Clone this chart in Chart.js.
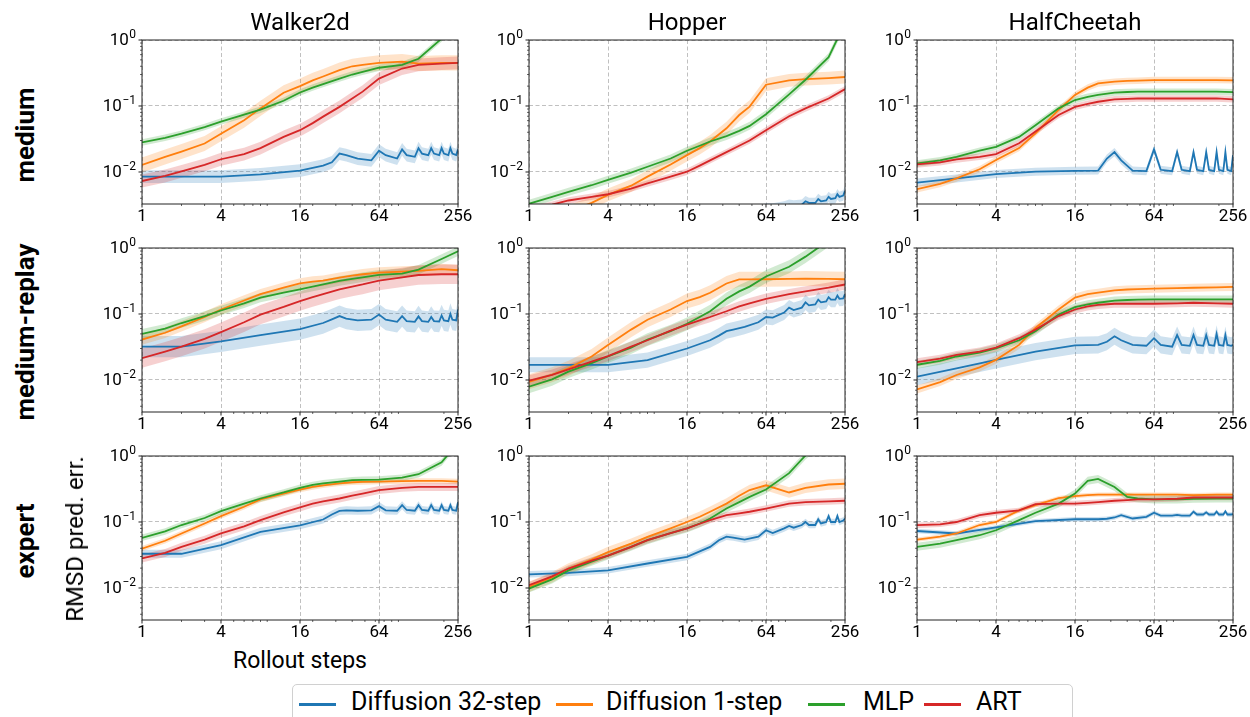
<!DOCTYPE html>
<html>
<head>
<meta charset="utf-8">
<script src="https://cdn.jsdelivr.net/npm/chart.js@4.4.1/dist/chart.umd.min.js"></script>
<style>
  body { margin: 0; width: 1250px; height: 717px; overflow: hidden; background: #fff; position: relative; font-family: Roboto, sans-serif; color: #000; }
  .panel { position: absolute; }
  .lbl { position: absolute; white-space: nowrap; transform: translate(-50%, -50%); }
  .rot { transform: translate(-50%, -50%) rotate(-90deg); }
  .title { font-size: 24px; }
  .row { font-size: 26px; font-weight: bold; }
  #legend { position: absolute; left: 292px; top: 684px; width: 779px; height: 45px; border: 1px solid #d0d0d0; border-radius: 5px; }
  #legend .sw { position: absolute; top: 18px; height: 2.5px; }
  #legend .tx { position: absolute; top: 2px; font-size: 25px; line-height: 30px; white-space: nowrap; }
</style>
</head>
<body>
<script>
// x grid shared by the smooth series, denser grid for the spiky 32-step diffusion
const steps = [1, 1.5, 2, 3, 4, 6, 8, 12, 16, 20, 24, 32, 40, 48, 64, 96, 128, 192, 256];
const spikeSteps = [1, 2, 4, 8, 16, 24, 28, 32, 36, 44, 56, 64, 72, 88, 96, 104, 120, 128, 136, 152, 160, 168, 184, 192, 200, 216, 224, 232, 248, 256];

const envs = ["Walker2d", "Hopper", "HalfCheetah"];
const splits = ["medium", "medium-replay", "expert"];
const methods = ["Diffusion 32-step", "Diffusion 1-step", "MLP", "ART"];
const colors = ["#1f77b4", "#ff7f0e", "#2ca02c", "#d62728"];
const bandColors = ["rgba(31,119,180,0.22)", "rgba(255,127,14,0.22)", "rgba(44,160,44,0.22)", "rgba(214,39,40,0.22)"];
const xTicks = [1, 4, 16, 64, 256];
const yTicks = [0.01, 0.1, 1];

// medium
const walkerMediumD32 = [.0085,.0085,.0085,.0092,.0105,.0125,.014,.019,.018,.016,.015,.021,.018,.016,.022,.018,.017,.023,.019,.018,.023,.019,.018,.023,.019,.018,.023,.019,.018,.022];
const walkerMediumD1 = [.0128,.0169,.0204,.027,.038,.061,.092,.159,.2,.245,.28,.35,.4,.42,.45,.47,.44,.45,.45];
const walkerMediumMLP = [.028,.033,.038,.048,.058,.074,.088,.12,.16,.19,.215,.26,.3,.33,.38,.42,.52,1.05,2.5];
const walkerMediumART = [.0073,.0087,.0102,.0128,.0156,.0187,.023,.034,.043,.055,.069,.097,.13,.165,.26,.37,.42,.44,.45];
const walkerMediumSpread = [1.25, 1.3, 1.12, 1.25];

const hopperMediumD32 = [.0018,.0018,.0019,.002,.0021,.0022,.0022,.0023,.0023,.0024,.0026,.0028,.0028,.003,.0032,.0031,.0032,.0036,.0034,.0034,.0039,.0036,.0037,.0042,.0039,.004,.0046,.0042,.0044,.0052];
const hopperMediumD1 = [.0016,.002,.0025,.0034,.0045,.0062,.0085,.013,.018,.023,.029,.046,.073,.098,.21,.245,.255,.265,.275];
const hopperMediumMLP = [.0033,.0042,.005,.0063,.0076,.0098,.012,.016,.021,.025,.029,.035,.042,.05,.075,.15,.25,.55,1.8];
const hopperMediumART = [.0027,.0032,.0037,.0042,.0046,.0056,.0067,.0085,.0101,.0125,.015,.02,.025,.03,.043,.07,.092,.13,.18];
const hopperMediumSpread = [1.2, 1.25, 1.15, 1.12];

const cheetahMediumD32 = [.0069,.008,.0093,.0101,.0104,.0105,.016,.02,.015,.0105,.0103,.022,.0108,.0103,.02,.0108,.0103,.02,.0108,.0103,.02,.0108,.0103,.02,.0108,.0103,.02,.0108,.0103,.018];
const cheetahMediumD1 = [.0055,.0066,.008,.011,.0152,.023,.0385,.087,.147,.19,.22,.234,.24,.242,.247,.247,.247,.247,.245];
const cheetahMediumMLP = [.0135,.015,.017,.021,.024,.034,.051,.092,.123,.138,.147,.16,.163,.165,.165,.165,.165,.165,.162];
const cheetahMediumART = [.013,.014,.0155,.017,.0187,.0272,.041,.073,.097,.108,.116,.126,.128,.13,.13,.13,.13,.13,.126];
const cheetahMediumSpread = [1.15, 1.12, 1.12, 1.12];

// medium-replay
const walkerReplayD32 = [.032,.032,.0385,.048,.059,.073,.083,.093,.085,.08,.082,.098,.082,.076,.093,.078,.076,.092,.078,.076,.09,.078,.077,.095,.08,.078,.1,.082,.08,.117];
const walkerReplayD1 = [.041,.052,.065,.09,.117,.16,.2,.25,.29,.31,.32,.356,.38,.4,.425,.44,.45,.48,.46];
const walkerReplayMLP = [.05,.06,.073,.093,.113,.145,.177,.21,.237,.26,.28,.317,.34,.36,.392,.41,.47,.68,.89];
const walkerReplayART = [.0214,.027,.032,.042,.053,.075,.098,.128,.157,.18,.2,.237,.26,.28,.32,.36,.39,.4,.4];
const walkerReplaySpread = [1.45, 1.2, 1.18, 1.4];

const hopperReplayD32 = [.017,.017,.017,.02,.03,.04,.047,.055,.058,.064,.075,.09,.088,.105,.125,.115,.125,.15,.135,.14,.165,.15,.155,.18,.165,.165,.19,.17,.172,.2];
const hopperReplayD1 = [.0094,.012,.015,.0227,.034,.058,.082,.117,.157,.18,.21,.29,.335,.335,.336,.34,.344,.34,.336];
const hopperReplayMLP = [.0079,.0102,.0134,.018,.0227,.031,.041,.055,.071,.09,.11,.17,.22,.26,.37,.52,.74,1.3,2.0];
const hopperReplayART = [.0098,.012,.0145,.019,.023,.032,.04,.056,.069,.08,.09,.11,.13,.145,.17,.2,.22,.25,.28];
const hopperReplaySpread = [1.3, 1.3, 1.25, 1.2];

const cheetahReplayD32 = [.0112,.015,.0202,.027,.0334,.034,.038,.046,.04,.034,.033,.043,.034,.032,.048,.034,.033,.048,.034,.033,.048,.034,.033,.05,.034,.033,.048,.034,.033,.034];
const cheetahReplayD1 = [.0072,.0093,.0119,.0155,.0202,.034,.0615,.117,.177,.2,.21,.228,.235,.238,.242,.246,.25,.254,.257];
const cheetahReplayMLP = [.017,.0195,.0227,.026,.03,.04,.055,.098,.127,.14,.148,.16,.163,.165,.166,.166,.166,.166,.166];
const cheetahReplayART = [.0186,.021,.024,.027,.031,.043,.058,.093,.117,.13,.137,.143,.143,.143,.143,.145,.148,.145,.143];
const cheetahReplaySpread = [1.35, 1.15, 1.15, 1.15];

// expert
const walkerExpertD32 = [.033,.033,.0445,.071,.089,.109,.13,.147,.15,.148,.15,.174,.15,.148,.18,.152,.148,.18,.152,.148,.18,.152,.148,.18,.152,.148,.18,.152,.148,.2];
const walkerExpertD1 = [.0395,.052,.067,.095,.123,.17,.22,.27,.31,.34,.36,.385,.4,.405,.41,.415,.42,.42,.41];
const walkerExpertMLP = [.0575,.072,.09,.115,.146,.19,.227,.28,.33,.365,.385,.41,.43,.435,.44,.47,.53,.8,1.6];
const walkerExpertART = [.028,.034,.042,.054,.067,.086,.107,.14,.166,.19,.205,.227,.25,.27,.305,.33,.34,.34,.34];
const walkerExpertSpread = [1.15, 1.1, 1.12, 1.15];

const hopperExpertD32 = [.0161,.0169,.0185,.0235,.0296,.042,.053,.06,.058,.054,.06,.075,.068,.08,.087,.082,.09,.1,.09,.09,.11,.095,.1,.123,.1,.1,.123,.1,.105,.113];
const hopperExpertD1 = [.0104,.0145,.0197,.027,.035,.047,.0595,.08,.1,.12,.143,.19,.25,.305,.36,.28,.33,.37,.38];
const hopperExpertMLP = [.0098,.0135,.0185,.025,.031,.042,.053,.068,.08,.095,.113,.16,.2,.24,.31,.55,1.02,2.0,3.0];
const hopperExpertART = [.011,.015,.0197,.026,.031,.042,.053,.068,.08,.094,.107,.127,.135,.143,.16,.19,.2,.205,.21];
const hopperExpertSpread = [1.12, 1.2, 1.15, 1.12];

const cheetahExpertD32 = [.073,.067,.083,.103,.11,.11,.112,.117,.127,.113,.12,.138,.125,.125,.128,.125,.125,.143,.13,.13,.14,.13,.13,.143,.13,.13,.145,.13,.13,.132];
const cheetahExpertD1 = [.054,.06,.067,.09,.1,.15,.18,.23,.247,.255,.26,.26,.26,.26,.26,.26,.255,.26,.26];
const cheetahExpertMLP = [.042,.047,.053,.063,.075,.107,.138,.19,.27,.42,.45,.34,.24,.227,.22,.22,.225,.227,.227];
const cheetahExpertART = [.0895,.092,.1,.127,.138,.15,.187,.19,.19,.195,.2,.21,.215,.22,.22,.225,.235,.235,.235];
const cheetahExpertSpread = [1.08, 1.08, 1.15, 1.1];

const panels = [
  [[walkerMediumD32, walkerMediumD1, walkerMediumMLP, walkerMediumART, walkerMediumSpread],
   [hopperMediumD32, hopperMediumD1, hopperMediumMLP, hopperMediumART, hopperMediumSpread],
   [cheetahMediumD32, cheetahMediumD1, cheetahMediumMLP, cheetahMediumART, cheetahMediumSpread]],
  [[walkerReplayD32, walkerReplayD1, walkerReplayMLP, walkerReplayART, walkerReplaySpread],
   [hopperReplayD32, hopperReplayD1, hopperReplayMLP, hopperReplayART, hopperReplaySpread],
   [cheetahReplayD32, cheetahReplayD1, cheetahReplayMLP, cheetahReplayART, cheetahReplaySpread]],
  [[walkerExpertD32, walkerExpertD1, walkerExpertMLP, walkerExpertART, walkerExpertSpread],
   [hopperExpertD32, hopperExpertD1, hopperExpertMLP, hopperExpertART, hopperExpertSpread],
   [cheetahExpertD32, cheetahExpertD1, cheetahExpertMLP, cheetahExpertART, cheetahExpertSpread]]
];

// layout (px)
const plotLeft = [142, 529, 917];
const plotTop = [40, 248, 456];
const PW = 316, PH = 164;
const AXW = 60, AXH = 24, PADT = 16, PADR = 24;
const yMin = Math.pow(10, -2.485);

// spines, tick marks and 10^n labels
const framePlugin = {
  id: "frame",
  afterDraw(chart) {
    const { ctx, chartArea: a, scales: { x, y } } = chart;
    ctx.save();
    ctx.strokeStyle = "#222";
    ctx.lineWidth = 1;
    ctx.strokeRect(a.left, a.top, a.right - a.left, a.bottom - a.top);

    const tick = (x0, y0, x1, y1, w) => {
      ctx.lineWidth = w;
      ctx.beginPath(); ctx.moveTo(x0, y0); ctx.lineTo(x1, y1); ctx.stroke();
    };
    for (let d = 1; d <= 100; d *= 10) {
      for (let m = 2; m <= 9; m++) {
        const v = m * d;
        if (v > 256 || xTicks.includes(v)) continue;
        const px = x.getPixelForValue(v);
        tick(px, a.bottom, px, a.bottom + 2, 0.7);
      }
    }
    xTicks.forEach(v => {
      const px = x.getPixelForValue(v);
      tick(px, a.bottom, px, a.bottom + 3.5, 1);
    });
    for (let d = 0.001; d < 1; d *= 10) {
      for (let m = 2; m <= 9; m++) {
        const v = m * d;
        if (v < yMin || v > 1) continue;
        const py = y.getPixelForValue(v);
        tick(a.left, py, a.left - 2, py, 0.7);
      }
    }
    ctx.fillStyle = "#000";
    yTicks.forEach(v => {
      const py = y.getPixelForValue(v);
      tick(a.left, py, a.left - 3.5, py, 1);
      const exp = Math.round(Math.log10(v));
      const expStr = exp === 0 ? "0" : "\u2212" + Math.abs(exp);
      ctx.font = "12px Roboto";
      const ew = ctx.measureText(expStr).width;
      const right = a.left - 6;
      ctx.textBaseline = "middle";
      ctx.textAlign = "left";
      ctx.fillText(expStr, right - ew, py - 5);
      ctx.font = "17px Roboto";
      ctx.textAlign = "right";
      ctx.fillText("10", right - ew - 0.5, py + 1);
    });
    ctx.restore();
  }
};

function addLabel(text, cls, x, y, size) {
  const el = document.createElement("div");
  el.className = "lbl " + cls;
  el.textContent = text;
  el.style.left = x + "px";
  el.style.top = y + "px";
  if (size) el.style.fontSize = size + "px";
  document.body.appendChild(el);
}

window.addEventListener("load", () => {
  panels.forEach((rowPanels, r) => {
    rowPanels.forEach((panel, c) => {
      const spread = panel[4];
      const datasets = [];
      methods.forEach((name, i) => {
        const xs = i === 0 ? spikeSteps : steps;
        const vals = panel[i];
        const s = spread[i];
        // band: lower bound, then upper bound filled down to it
        datasets.push({
          label: name + " lo", data: xs.map((x, k) => ({ x, y: vals[k] / s })),
          borderWidth: 0, pointRadius: 0, fill: false, order: 20 - i
        });
        datasets.push({
          label: name + " hi", data: xs.map((x, k) => ({ x, y: vals[k] * s })),
          borderWidth: 0, pointRadius: 0, fill: "-1", backgroundColor: bandColors[i], order: 20 - i
        });
        datasets.push({
          label: name, data: xs.map((x, k) => ({ x, y: vals[k] })),
          borderColor: colors[i], borderWidth: 1.8, pointRadius: 0, fill: false, order: 10 - i
        });
      });

      const wrap = document.createElement("div");
      wrap.className = "panel";
      wrap.style.left = (plotLeft[c] - AXW) + "px";
      wrap.style.top = (plotTop[r] - PADT) + "px";
      const canvas = document.createElement("canvas");
      canvas.width = AXW + PW + PADR;
      canvas.height = PADT + PH + AXH;
      wrap.appendChild(canvas);
      document.body.appendChild(wrap);

      new Chart(canvas.getContext("2d"), {
        type: "line",
        data: { datasets },
        options: {
          responsive: false,
          animation: false,
          parsing: false,
          events: [],
          layout: { padding: { left: 0, top: PADT, right: PADR, bottom: 0 } },
          plugins: { legend: { display: false }, tooltip: { enabled: false } },
          scales: {
            x: {
              type: "logarithmic", min: 1, max: 256,
              afterBuildTicks: s => { s.ticks = xTicks.map(v => ({ value: v })); },
              afterFit: s => { s.height = AXH; },
              ticks: { autoSkip: false, maxRotation: 0, padding: 3, color: "#000",
                       font: { family: "Roboto", size: 17 }, callback: v => String(v) },
              grid: { color: "#b0b0b0", lineWidth: 0.8, drawTicks: false },
              border: { display: false, dash: [4, 2.5] }
            },
            y: {
              type: "logarithmic", min: yMin, max: 1,
              afterBuildTicks: s => { s.ticks = yTicks.map(v => ({ value: v })); },
              afterFit: s => { s.width = AXW; },
              ticks: { display: false },
              grid: { color: "#b0b0b0", lineWidth: 0.8, drawTicks: false },
              border: { display: false, dash: [4, 2.5] }
            }
          }
        },
        plugins: [framePlugin]
      });
    });
  });

  envs.forEach((name, c) => addLabel(name, "title", plotLeft[c] + PW / 2, 22));
  const rowY = [135, 332, 541];
  splits.forEach((name, r) => addLabel(name, "row rot", 25, rowY[r]));
  addLabel("RMSD pred. err.", "rot", 75, 539, 24);
  addLabel("Rollout steps", "", 300, 660, 23);

  // legend
  const legend = document.createElement("div");
  legend.id = "legend";
  const swX = [6, 263, 515, 631];
  const txX = [58, 313, 570, 683];
  methods.forEach((name, i) => {
    const sw = document.createElement("div");
    sw.className = "sw";
    sw.style.left = swX[i] + "px";
    sw.style.width = "37px";
    sw.style.background = colors[i];
    legend.appendChild(sw);
    const tx = document.createElement("div");
    tx.className = "tx";
    tx.style.left = txX[i] + "px";
    tx.textContent = name;
    legend.appendChild(tx);
  });
  document.body.appendChild(legend);
});
</script>
</body>
</html>
